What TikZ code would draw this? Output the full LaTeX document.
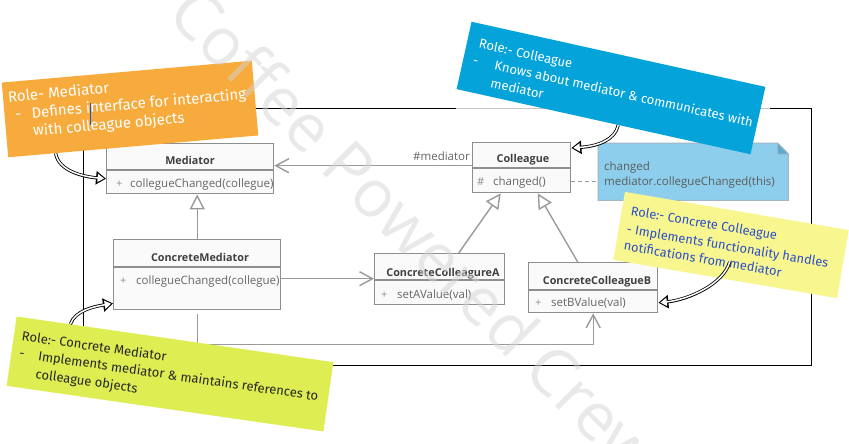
\documentclass[tikz,border=0pt]{standalone}
\usepackage{fontspec}
\setmainfont{Open Sans}
\newfontfamily\handfont{Fira Sans}
\newfontfamily\wmfont{Open Sans}
\usetikzlibrary{arrows.meta,calc}
\definecolor{orangeN}{HTML}{F8AB3D}
\definecolor{blueN}{HTML}{04A3D9}
\definecolor{yellowN}{HTML}{F8F68F}
\definecolor{greenN}{HTML}{DDED52}
\definecolor{cfill}{HTML}{8CCEEB}
\definecolor{cborder}{HTML}{A2B6C4}
\definecolor{cfold}{HTML}{5EA9CD}
\definecolor{boxc}{HTML}{8E8E8E}
\definecolor{boxfill}{HTML}{FAFAFA}
\definecolor{linec}{HTML}{9A9A9A}
\definecolor{titlec}{HTML}{3F3F3F}
\definecolor{methc}{HTML}{666666}
\definecolor{ytext}{HTML}{2C4ECB}
\definecolor{wmc}{HTML}{D4D4D4}
\definecolor{cursorc}{HTML}{1F4FE0}
\newcommand\hollowarr[4]{\draw[hollowout] #1 .. controls #2 and #3 .. #4; \draw[hollowin] #1 .. controls #2 and #3 .. #4;}
\begin{document}
\begin{tikzpicture}[x=1pt,y=-1pt,
  cls/.style={draw=boxc, line width=1.4pt, fill=boxfill, inner sep=0, anchor=north west},
  divl/.style={draw=boxc, line width=1.4pt},
  title/.style={font=\bfseries\fontsize{10.8}{12}\selectfont, text=titlec, inner sep=0, anchor=base},
  meth/.style={font=\fontsize{11.5}{13}\selectfont, text=methc, inner sep=0, anchor=base west},
  vis/.style={font=\fontsize{11}{13}\selectfont, text=boxc, inner sep=0, anchor=base west},
  assoc/.style={draw=linec, line width=1.4pt, -{Straight Barb[length=13pt,width=14pt]}},
  inherit/.style={draw=linec, line width=1.4pt, -{Triangle[open, length=15pt, width=15pt, fill=white]}},
  dashc/.style={draw=linec, line width=1.3pt, dash pattern=on 4pt off 3pt},
  notebox/.style={inner sep=0, draw=none},
  hand/.style={font=\handfont\fontsize{13}{15}\selectfont, inner sep=0, anchor=base west},
  hollowout/.style={line width=3.2pt, black, -{Triangle[length=10pt,width=13pt]}},
  hollowin/.style={line width=1.5pt, white, shorten >=1.9pt, -{Triangle[length=6.5pt,width=8pt]}},
  wm/.style={font=\wmfont\fontsize{66}{70}\selectfont, text=wmc, opacity=0.5, inner sep=0}
]
\useasboundingbox (0,0) rectangle (849,444);
\clip (0,0) rectangle (849,444);
\fill[white] (0,0) rectangle (849,444);

% frame
\draw[black, line width=0.8pt] (83,108) rectangle (811,365);
\draw[gray!45, line width=0.9pt] (456,108) -- (770,108);

% classes
\node[cls, minimum width=167pt, minimum height=50pt] (med) at (106,143) {};
\draw[divl] ([yshift=-27pt]med.north west) -- ([yshift=-27pt]med.north east);
\node[title] at (190,164) {Mediator};
\node[vis] at (116,187) {+};
\node[meth] at (130,187) {collegueChanged(collegue)};

\node[cls, minimum width=167pt, minimum height=70pt] (cm) at (113,239) {};
\draw[divl] ([yshift=-28pt]cm.north west) -- ([yshift=-28pt]cm.north east);
\node[title] at (200,261) {ConcreteMediator};
\node[vis] at (120,284) {+};
\node[meth] at (136,284) {collegueChanged(collegue)};

\node[cls, minimum width=130pt, minimum height=51pt] (cca) at (374,253) {};
\draw[divl] ([yshift=-27pt]cca.north west) -- ([yshift=-27pt]cca.north east);
\node[title] at (443,276) {ConcreteColleagureA};
\node[vis] at (381,298) {+};
\node[meth] at (397,298) {setAValue(val)};

\node[cls, minimum width=129pt, minimum height=50pt] (ccb) at (528,262) {};
\draw[divl] ([yshift=-28pt]ccb.north west) -- ([yshift=-28pt]ccb.north east);
\node[title] at (597,284) {ConcreteColleagueB};
\node[vis] at (535,306) {+};
\node[meth] at (551,306) {setBValue(val)};

\node[cls, minimum width=98pt, minimum height=50pt] (col) at (472,142) {};
\draw[divl] ([yshift=-26pt]col.north west) -- ([yshift=-26pt]col.north east);
\node[title] at (523,162) {Colleague};
\node[vis] at (477,185) {\#};
\node[meth] at (493,185) {changed()};

% connectors
\draw[assoc] ($(col.west)+(0,-2)$) coordinate (aA) -- (aA -| med.east);
\node[font=\fontsize{11.5}{13}\selectfont, text=methc, inner sep=0, anchor=base east] (lbl) at ([xshift=-2pt,yshift=7pt]col.west) {\#mediator};
\draw[assoc] ($(cm.east)+(0,4)$) coordinate (aB) -- (aB -| cca.west);
\draw[inherit] (cm.north) -- (cm.north |- med.south);
\draw[inherit] ($(cca.north)+(19,0)$) -- ($(col.south)+(-21,0)$);
\draw[inherit] ($(ccb.north)+(-15.5,0)$) -- ($(col.south)+(16,0)$);
\draw[assoc] ([yshift=-4pt]cm.south) -- ++(0,30) -| (ccb.south);

% comment note
\node[inner sep=0, minimum width=190pt, minimum height=57pt, anchor=north west] (cnote) at (598,143) {};
\filldraw[fill=cfill, draw=cborder, line width=1pt] (cnote.north west) -- ([xshift=-11pt]cnote.north east) -- ([yshift=-11pt]cnote.north east) -- (cnote.south east) -- (cnote.south west) -- cycle;
\filldraw[fill=cfold, draw=cborder, line width=0.8pt] ([xshift=-11pt]cnote.north east) -- ([xshift=-11pt,yshift=-11pt]cnote.north east) -- ([yshift=-11pt]cnote.north east) -- cycle;
\node[meth, text=methc!90!black] at (604,170) {changed};
\node[meth, text=methc!90!black] at (604,185) {mediator.collegueChanged(this)};
\draw[dashc] ($(col.east)+(0,14)$) coordinate (dA) -- (dA -| cnote.west);

% orange note
\begin{scope}[shift={(130,109)}, rotate=5, transform shape]
\node[notebox, fill=orangeN, minimum width=251pt, minimum height=75pt] (onote) at (0,0) {};
\node[hand, text=white, font=\handfont\fontsize{15}{17}\selectfont] (o1) at (-120.5,-17.5) {Role- Mediator};
\node[hand, text=white, font=\handfont\fontsize{15}{17}\selectfont] (o2) at (-115,0.5) {-};
\node[hand, text=white, font=\handfont\fontsize{15}{17}\selectfont] (o3) at (-98.5,0.5) {Defines interface for interacting};
\node[hand, text=white, font=\handfont\fontsize{15}{17}\selectfont] (o4) at (-98.5,18.5) {with colleague objects};
\end{scope}
\draw[cursorc, line width=0.8pt] (90,103) -- (90,125);

% blue note
\begin{scope}[shift={(611,88)}, rotate=-12.5, transform shape]
\node[notebox, fill=blueN, minimum width=301pt, minimum height=69pt] (bnote) at (0,0) {};
\node[hand, text=white] (b1) at (-138.5,-10.5) {Role:- Colleague};
\node[hand, text=white] (b2) at (-140.5,7.5) {-};
\node[hand, text=white] (b3) at (-118.5,7.5) {Knows about mediator \& communicates with};
\node[hand, text=white] (b4) at (-118.5,25.5) {mediator};
\end{scope}

% yellow note
\begin{scope}[shift={(731,245)}, rotate=-9.7, transform shape]
\node[notebox, fill=yellowN, minimum width=227pt, minimum height=69pt] (ynote) at (0,0) {};
\node[hand, text=ytext, font=\handfont\fontsize{12.8}{14}\selectfont] (y1) at (-104.5,-12.5) {Role:- Concrete Colleague};
\node[hand, text=ytext, font=\handfont\fontsize{12.8}{14}\selectfont] (y2) at (-105.5,6) {- Implements functionality handles};
\node[hand, text=ytext, font=\handfont\fontsize{12.8}{14}\selectfont] (y3) at (-105.5,23) {notifications from mediator};
\end{scope}

% green note
\begin{scope}[shift={(170,374)}, rotate=-8.2, transform shape]
\node[notebox, fill=greenN, minimum width=320pt, minimum height=70pt] (gnote) at (0,0) {};
\node[hand, text=black!85] (g1) at (-152,-12) {Role:- Concrete Mediator};
\node[hand, text=black!85] (g2) at (-152,5.5) {-};
\node[hand, text=black!85] (g3) at (-133,5.5) {Implements mediator \& maintains references to};
\node[hand, text=black!85] (g4) at (-133,23.5) {colleague objects};
\end{scope}

% hollow arrows from notes
\coordinate (oA) at ($(onote.south west)!0.19!(onote.south east)$);
\coordinate (bA) at ($(bnote.south west)!0.55!(bnote.south east)$);
\coordinate (yA) at ($(ynote.south west)!0.52!(ynote.south east)+(0,-18)$);
\coordinate (gA) at ($(gnote.north west)!0.17!(gnote.north east)$);
\hollowarr{(oA)}{+(3,18)}{+(-22,-2)}{([yshift=-10pt]med.west)}
\hollowarr{(bA)}{+(-3,14)}{+(28,-2)}{([yshift=-6pt]col.north east)}
\hollowarr{(yA)}{+(-6,22)}{+(30,-3)}{([yshift=-15pt]ccb.east)}
\hollowarr{(gA)}{+(5,-14)}{+(-18,3)}{([yshift=7pt]cm.south west)}

% watermark
\node[wm, rotate=-45, anchor=base west] (wmark) at (165,16) {Coffee Powered Crew};
\end{tikzpicture}
\end{document}
